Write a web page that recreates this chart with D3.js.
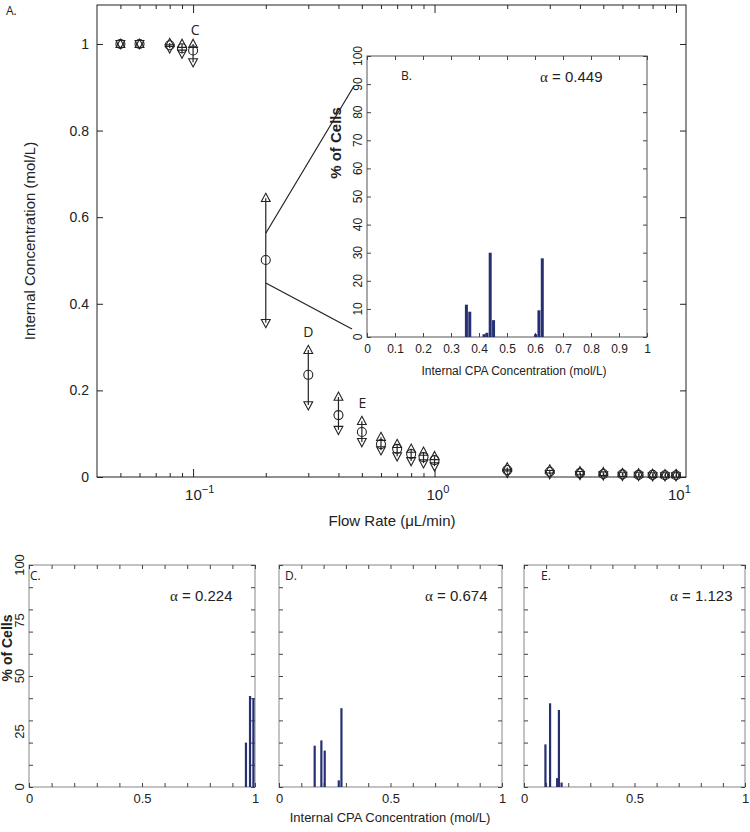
<!DOCTYPE html>
<html>
<head>
<meta charset="utf-8">
<script src="https://cdn.jsdelivr.net/npm/d3@7"></script>
<style>
body { margin: 0; background: #fff; }
svg text { font-family: "Liberation Sans Narrow", "Liberation Sans", Arial, sans-serif; fill: #222; }
.lett { font-family: "Open Sans", "Noto Sans", sans-serif; }
</style>
</head>
<body>
<svg id="chart" width="750" height="832"></svg>
<script>
// panel A: flow rate vs internal concentration (mean, max, min)
var flowRates = [0.05, 0.06, 0.08, 0.09, 0.1, 0.2, 0.3, 0.4, 0.5, 0.6, 0.7, 0.8, 0.9, 1, 2, 3, 4, 5, 6, 7, 8, 9, 10];
var concMean = [1.0, 1.0, 0.997, 0.99, 0.985, 0.501, 0.236, 0.143, 0.104, 0.076, 0.065, 0.053, 0.046, 0.039, 0.016, 0.012, 0.009, 0.007, 0.006, 0.005, 0.005, 0.004, 0.004];
var concMax = [1.0, 1.0, 1.002, 1.0, 1.0, 0.644, 0.293, 0.185, 0.129, 0.092, 0.076, 0.065, 0.058, 0.048, 0.022, 0.017, 0.013, 0.011, 0.009, 0.008, 0.007, 0.006, 0.006];
var concMin = [1.0, 1.0, 0.99, 0.978, 0.958, 0.356, 0.166, 0.109, 0.081, 0.062, 0.048, 0.037, 0.032, 0.025, 0.010, 0.007, 0.005, 0.004, 0.003, 0.003, 0.002, 0.002, 0.002];
var yTicksA = [0, 0.2, 0.4, 0.6, 0.8, 1];
var xMajorA = [0.1, 1, 10];
var xMajorLabels = [["10", "\u22121"], ["10", "0"], ["10", "1"]];

// histograms: bin centre (mol/L) and % of cells
var binsB = [0.355, 0.367, 0.418, 0.428, 0.44, 0.452, 0.602, 0.614, 0.626];
var pctB = [11.5, 9, 1, 1.5, 30, 6, 1, 9.5, 28];
var binsC = [0.96, 0.978, 0.993];
var pctC = [20, 41, 40];
var binsD = [0.16, 0.19, 0.205, 0.268, 0.28];
var pctD = [18.6, 21, 16.4, 3, 35.5];
var binsE = [0.097, 0.118, 0.15, 0.158, 0.17];
var pctE = [19.2, 37.7, 4, 34.7, 2];
var alphaB = "0.449", alphaC = "0.224", alphaD = "0.674", alphaE = "1.123";

var navy = "#262f72";
var svg = d3.select("#chart");

function noDomain(g) { g.select(".domain").remove(); }

// ---------- panel A ----------
var xA = d3.scaleLog().domain([0.04, 11]).range([97, 686]);
var yA = d3.scaleLinear().domain([0, 1.09]).range([477, 5]);
var gA = svg.append("g");

var minorA = [];
[0.01, 0.1, 1].forEach(function (dec) {
    for (var k = 2; k <= 9; k++) {
        var v = dec * k;
        if (v > 0.04 && v < 11) minorA.push(v);
    }
});

gA.append("g").attr("transform", "translate(0,477)")
    .call(d3.axisBottom(xA).tickValues(minorA).tickSize(-4).tickFormat(""))
    .call(noDomain);
gA.append("g").attr("transform", "translate(0,5)")
    .call(d3.axisTop(xA).tickValues(minorA).tickSize(-4).tickFormat(""))
    .call(noDomain);
gA.append("g").attr("transform", "translate(0,477)")
    .call(d3.axisBottom(xA).tickValues(xMajorA).tickSize(-8).tickFormat(""))
    .call(noDomain);
gA.append("g").attr("transform", "translate(0,5)")
    .call(d3.axisTop(xA).tickValues(xMajorA).tickSize(-8).tickFormat(""))
    .call(noDomain);
gA.append("g").attr("transform", "translate(97,0)")
    .call(d3.axisLeft(yA).tickValues(yTicksA).tickSize(-6).tickPadding(8)
        .tickFormat(function (d) { return String(+d.toFixed(1)); }))
    .call(noDomain)
    .selectAll("text").style("font-size", "14px");
gA.append("g").attr("transform", "translate(686,0)")
    .call(d3.axisRight(yA).tickValues(yTicksA).tickSize(-6).tickFormat(""))
    .call(noDomain);
gA.selectAll(".tick line").attr("stroke", "#222");

gA.append("rect").attr("x", 97).attr("y", 5).attr("width", 589).attr("height", 472)
    .attr("fill", "none").attr("stroke", "#222");

// superscript decade labels, "10" centred on the tick
xMajorA.forEach(function (v, i) {
    var t = gA.append("text").attr("x", xA(v) - 8).attr("y", 500)
        .style("font-size", "15px");
    t.append("tspan").text(xMajorLabels[i][0]);
    t.append("tspan").attr("dy", -7).style("font-size", "11px").text(xMajorLabels[i][1]);
});

gA.append("text").attr("x", 392).attr("y", 526).attr("text-anchor", "middle")
    .style("font-size", "15px").text("Flow Rate (\u03bcL/min)");
gA.append("text").attr("transform", "translate(35,241) rotate(-90)").attr("text-anchor", "middle")
    .style("font-size", "15px").text("Internal Concentration (mol/L)");

var ptsA = flowRates.map(function (f, i) {
    return { f: f, mean: concMean[i], hi: concMax[i], lo: concMin[i] };
});

gA.selectAll("line.err").data(ptsA).enter().append("line")
    .attr("class", "err")
    .attr("x1", function (d) { return xA(d.f); })
    .attr("x2", function (d) { return xA(d.f); })
    .attr("y1", function (d) { return yA(d.hi); })
    .attr("y2", function (d) { return yA(d.lo); })
    .attr("stroke", "#222").attr("stroke-width", 1.2);

var triUp = "M0,-4.8L4.4,3.4L-4.4,3.4Z";
var triDown = "M0,4.8L4.4,-3.4L-4.4,-3.4Z";

gA.selectAll("path.up").data(ptsA).enter().append("path")
    .attr("class", "up").attr("d", triUp)
    .attr("transform", function (d) { return "translate(" + xA(d.f) + "," + yA(d.hi) + ")"; })
    .attr("fill", "none").attr("stroke", "#222").attr("stroke-width", 1.1);
gA.selectAll("path.down").data(ptsA).enter().append("path")
    .attr("class", "down").attr("d", triDown)
    .attr("transform", function (d) { return "translate(" + xA(d.f) + "," + yA(d.lo) + ")"; })
    .attr("fill", "none").attr("stroke", "#222").attr("stroke-width", 1.1);
gA.selectAll("circle.mean").data(ptsA).enter().append("circle")
    .attr("class", "mean")
    .attr("cx", function (d) { return xA(d.f); })
    .attr("cy", function (d) { return yA(d.mean); })
    .attr("r", 4.5)
    .attr("fill", "none").attr("stroke", "#222").attr("stroke-width", 1.1);

// point letters
gA.append("text").attr("class", "lett").attr("x", xA(0.1) + 2).attr("y", 35)
    .attr("text-anchor", "middle").style("font-size", "14px").text("C");
gA.append("text").attr("class", "lett").attr("x", xA(0.3)).attr("y", 337)
    .attr("text-anchor", "middle").style("font-size", "14px").text("D");
gA.append("text").attr("class", "lett").attr("x", xA(0.4) + 24).attr("y", 408)
    .attr("text-anchor", "middle").style("font-size", "14px").text("E");

svg.append("text").attr("class", "lett").attr("x", 6).attr("y", 15)
    .style("font-size", "12px").text("A.");

// zoom lines from the 0.2 point to inset B
svg.append("line").attr("x1", xA(0.2)).attr("y1", yA(0.563)).attr("x2", 354).attr("y2", 86)
    .attr("stroke", "#222").attr("stroke-width", 1.2);
svg.append("line").attr("x1", xA(0.2)).attr("y1", yA(0.448)).attr("x2", 352).attr("y2", 329)
    .attr("stroke", "#222").attr("stroke-width", 1.2);

// ---------- histogram helper ----------
function histPanel(cfg) {
    var g = svg.append("g");
    var x = d3.scaleLinear().domain([0, 1]).range([cfg.x0, cfg.x1]);
    var y = d3.scaleLinear().domain([0, 100]).range([cfg.y1, cfg.y0]);
    g.append("rect").attr("x", cfg.x0).attr("y", cfg.y0)
        .attr("width", cfg.x1 - cfg.x0).attr("height", cfg.y1 - cfg.y0)
        .attr("fill", "#fff").attr("stroke", cfg.frame);

    var xt = d3.range(0, 11).map(function (i) { return i / 10; });
    g.append("g").attr("transform", "translate(0," + cfg.y1 + ")")
        .call(d3.axisBottom(x).tickValues(xt).tickSize(-4).tickPadding(7)
            .tickFormat(function (d) { return cfg.xLabels.indexOf(d) >= 0 ? String(d) : ""; }))
        .call(noDomain)
        .selectAll("text").style("font-size", cfg.fs + "px");
    g.append("g").attr("transform", "translate(0," + cfg.y0 + ")")
        .call(d3.axisTop(x).tickValues(xt).tickSize(-4).tickFormat(""))
        .call(noDomain);
    var yt = d3.range(0, 11).map(function (i) { return i * 10; });
    g.append("g").attr("transform", "translate(" + cfg.x0 + ",0)")
        .call(d3.axisLeft(y).tickValues(yt).tickSize(-4).tickFormat(""))
        .call(noDomain);
    g.append("g").attr("transform", "translate(" + cfg.x1 + ",0)")
        .call(d3.axisRight(y).tickValues(yt).tickSize(-4).tickFormat(""))
        .call(noDomain);
    g.selectAll(".tick line").attr("stroke", "#444");

    if (cfg.yLabels) {
        cfg.yLabels.forEach(function (v) {
            g.append("text")
                .attr("transform", "translate(" + (cfg.x0 - 5) + "," + y(v) + ") rotate(-90)")
                .attr("text-anchor", "middle").style("font-size", cfg.fs + "px").text(v);
        });
    }

    g.selectAll("rect.bar").data(cfg.bins).enter().append("rect")
        .attr("class", "bar")
        .attr("x", function (d) { return x(d) - cfg.bw / 2; })
        .attr("width", cfg.bw)
        .attr("y", function (d, i) { return y(cfg.pct[i]); })
        .attr("height", function (d, i) { return y(0) - y(cfg.pct[i]); })
        .attr("fill", navy);

    var at = g.append("text").attr("x", cfg.ax).attr("y", cfg.ay).style("font-size", "15px");
    at.append("tspan").style("font-family", "'Liberation Serif', 'Times New Roman', serif").text("\u03b1");
    at.append("tspan").text(" = " + cfg.alpha);
    return g;
}

// ---------- inset B ----------
histPanel({ x0: 367, x1: 647, y0: 56, y1: 337, frame: "#555", fs: 12,
    xLabels: [0, 0.1, 0.2, 0.3, 0.4, 0.5, 0.6, 0.7, 0.8, 0.9, 1],
    yLabels: [0, 10, 20, 30, 40, 50, 60, 70, 80, 90, 100],
    bins: binsB, pct: pctB, bw: 3, alpha: alphaB, ax: 540, ay: 82 });
svg.append("text").attr("class", "lett").attr("x", 401).attr("y", 80)
    .style("font-size", "12px").text("B.");
svg.append("text").attr("x", 514).attr("y", 375).attr("text-anchor", "middle")
    .style("font-size", "12px").text("Internal CPA Concentration (mol/L)");
svg.append("text").attr("transform", "translate(341,143) rotate(-90)").attr("text-anchor", "middle")
    .style("font-size", "15px").style("font-weight", "bold").text("% of Cells");

// ---------- panels C, D, E ----------
histPanel({ x0: 29, x1: 255, y0: 565, y1: 787, frame: "#888", fs: 13,
    xLabels: [0, 0.5, 1], yLabels: [0, 25, 50, 75, 100],
    bins: binsC, pct: pctC, bw: 2.2, alpha: alphaC, ax: 170, ay: 601 });
histPanel({ x0: 279, x1: 502, y0: 565, y1: 787, frame: "#888", fs: 13,
    xLabels: [0, 0.5, 1], yLabels: null,
    bins: binsD, pct: pctD, bw: 2.2, alpha: alphaD, ax: 425, ay: 601 });
histPanel({ x0: 524, x1: 745, y0: 565, y1: 787, frame: "#888", fs: 13,
    xLabels: [0, 0.5, 1], yLabels: null,
    bins: binsE, pct: pctE, bw: 2.2, alpha: alphaE, ax: 670, ay: 601 });

svg.append("text").attr("class", "lett").attr("x", 30).attr("y", 580).style("font-size", "12px").text("C.");
svg.append("text").attr("class", "lett").attr("x", 285).attr("y", 580).style("font-size", "12px").text("D.");
svg.append("text").attr("class", "lett").attr("x", 541).attr("y", 580).style("font-size", "12px").text("E.");

svg.append("text").attr("transform", "translate(12,648) rotate(-90)").attr("text-anchor", "middle")
    .style("font-size", "14px").style("font-weight", "bold").text("% of Cells");
svg.append("text").attr("x", 390).attr("y", 822).attr("text-anchor", "middle")
    .style("font-size", "13px").text("Internal CPA Concentration (mol/L)");
</script>
